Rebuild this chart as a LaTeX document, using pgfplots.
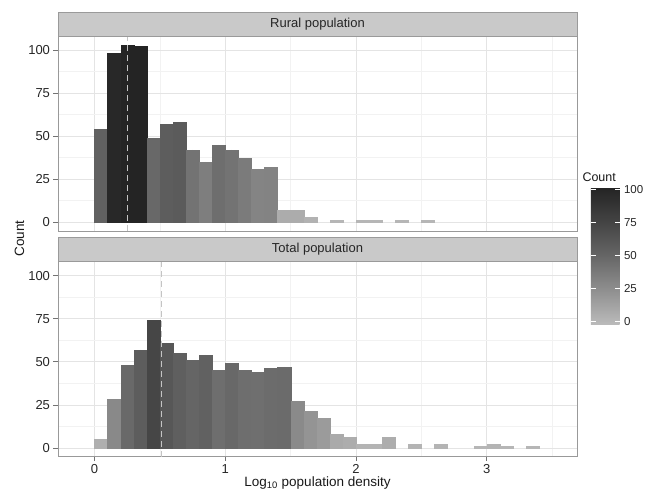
\documentclass[border=0pt]{standalone}
\usepackage{fontspec}
\setmainfont{Liberation Sans}
\usepackage{pgfplots}
\pgfplotsset{compat=1.18}
\definecolor{stripfill}{HTML}{C9C9C9}
\definecolor{stripdraw}{HTML}{9A9A9A}
\definecolor{gridmaj}{HTML}{E4E4E4}
\definecolor{gridmin}{HTML}{F2F2F2}
\definecolor{vline}{HTML}{C4C4C4}
\pgfplotsset{
  colormap={cnt}{gray(0pt)=(0.735) gray(27.5pt)=(0.555) gray(52.5pt)=(0.40) gray(77.5pt)=(0.27) gray(104pt)=(0.14)},
  panel/.style={
    scale only axis, width=519pt, height=195pt,
    xmin=-0.28, xmax=3.69, ymin=-5.15, ymax=108.15,
    xtick={0,1,2,3}, minor xtick={0.5,1.5,2.5,3.5},
    ytick={0,25,50,75,100}, minor ytick={12.5,37.5,62.5,87.5},
    grid=both,
    major grid style={draw=gridmaj, line width=0.6pt},
    minor grid style={draw=gridmin, line width=0.5pt},
    minor tick length=0pt, major tick length=4.5pt,
    tick align=outside, tick pos=left,
    tick style={draw=black!55, line width=0.6pt},
    axis line style={draw=black!40, line width=0.7pt},
    ticklabel style={font=\fontsize{13}{15}\selectfont, text=black!85},
    /pgf/number format/assume math mode=true,
    colormap name=cnt, point meta min=-2.5, point meta max=101.5,
    clip marker paths=true,
  },
  hist/.style={scatter, only marks, mark=square*, mark size=0pt, point meta=y,
    visualization depends on={y \as \yval},
    scatter/use mapped color={draw=none, fill=mapped color},
    scatter/@pre marker code/.append code={%
      \fill[mapped color] (axis direction cs:-0.05,0) rectangle (axis direction cs:0.05,-\yval);},
  },
  medline/.style={draw=vline, line width=0.9pt, dash pattern=on 6pt off 4pt, forget plot},
}
\begin{document}
\begin{tikzpicture}
\useasboundingbox (0,0) rectangle (651pt,492pt);
\coordinate (cbsw) at (582.3pt,167pt);
% top panel
\begin{axis}[panel, at={(58pt,260.9pt)}, anchor=south west,
  xticklabels={}, xtick style={draw=none}]
\addplot[hist] coordinates {(0.05,54) (0.15,98) (0.25,103) (0.35,102) (0.45,49) (0.55,57) (0.65,58) (0.75,42) (0.85,35) (0.95,45) (1.05,42) (1.15,37) (1.25,31) (1.35,32) (1.45,7) (1.55,7) (1.65,3) (1.85,1) (2.05,1) (2.15,1) (2.35,1) (2.55,1)};
\addplot[medline] coordinates {(0.25,-5.15) (0.25,108.15)};
\end{axis}
% bottom panel
\begin{axis}[panel, at={(58pt,35.3pt)}, anchor=south west,
  colorbar, colorbar/width=28.7pt,
  colorbar style={
    at={(cbsw)}, anchor=south west, xshift=0pt, yshift=0pt,
    height=137.3pt,
    ytick={0,25,50,75,100}, yticklabel pos=right,
    tick align=inside, ytick pos=both, major tick length=5pt,
    tick style={draw=white, line width=0.7pt},
    axis line style={draw=none},
    axis on top,
    yticklabel style={font=\fontsize{11.5}{13}\selectfont, text=black!85, xshift=1pt},
    /pgf/number format/assume math mode=true,
  }]
\addplot[hist] coordinates {(0.05,5) (0.15,28) (0.25,48) (0.35,57) (0.45,74) (0.55,61) (0.65,55) (0.75,51) (0.85,54) (0.95,45) (1.05,49) (1.15,45) (1.25,44) (1.35,46) (1.45,47) (1.55,27) (1.65,21) (1.75,17) (1.85,8) (1.95,6) (2.05,2) (2.15,2) (2.25,6) (2.45,2) (2.65,2) (2.95,1) (3.05,2) (3.15,1) (3.35,1)};
\addplot[medline] coordinates {(0.51,-5.15) (0.51,108.15)};
\end{axis}
% strips
\draw[fill=stripfill, draw=stripdraw, line width=0.8pt] (58pt,455.9pt) rectangle (577pt,480pt);
\node[font=\fontsize{13}{15}\selectfont, text=black!85] at (317.5pt,468pt) {Rural population};
\draw[fill=stripfill, draw=stripdraw, line width=0.8pt] (58pt,230.3pt) rectangle (577pt,254.7pt);
\node[font=\fontsize{13}{15}\selectfont, text=black!85] at (317.5pt,242.5pt) {Total population};
% axis titles
\node[rotate=90, font=\fontsize{13.5}{15}\selectfont, text=black!90] at (19.5pt,253.5pt) {Count};
\node[anchor=base, inner sep=0pt, font=\fontsize{13.5}{15}\selectfont, text=black!90] at (317.5pt,5.5pt) {Log\textsubscript{10} population density};
% legend title
\node[anchor=base west, inner sep=0pt, font=\fontsize{12.5}{14}\selectfont, text=black!90] at (582.3pt,310.3pt) {Count};
\end{tikzpicture}
\end{document}
